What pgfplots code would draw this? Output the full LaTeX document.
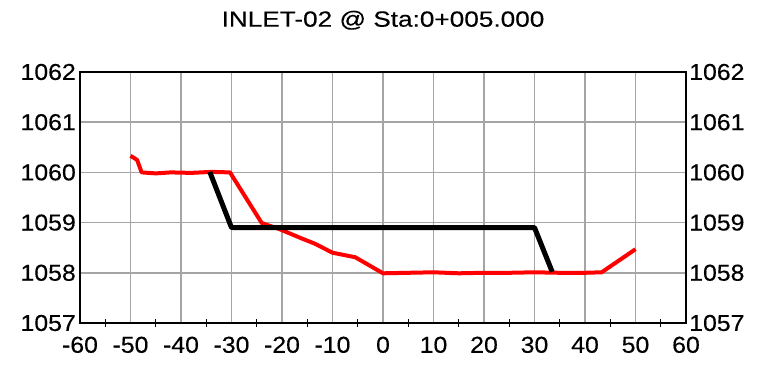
\documentclass[border=0pt]{standalone}
\usepackage{pgfplots}
\pgfplotsset{compat=1.18}
\usepackage{fontspec}
\setmainfont{Liberation Sans}[FakeStretch=1.08, FakeBold=0.35]
\newfontfamily\titlefont{Liberation Sans}[FakeStretch=1.19, FakeBold=0.3]
\definecolor{gridgray}{RGB}{165,165,165}
\begin{document}
\begin{tikzpicture}
\pgfplotsset{
  common/.style={
    width=606pt, height=251pt, scale only axis,
    xmin=-60, xmax=60, ymin=1057, ymax=1062,
    xtick={-60,-50,...,60}, ytick={1057,1058,...,1062},
    /pgf/number format/assume math mode=true,
    /pgf/number format/set thousands separator={},
    tick label style={font=\fontsize{23}{23}\selectfont},
  }
}
\begin{axis}[common, name=ax,
  axis line style={black, line width=1.3pt},
  grid=major, major grid style={gridgray, line width=1.8pt},
  major tick length=0pt,
  minor x tick num=1, minor y tick num=1,
  minor tick length=8pt, tick align=center,
  minor tick style={black, line width=1.2pt},
  xtick pos=bottom, ytick pos=both,
  xticklabel style={anchor=north, inner sep=0pt, yshift=-13.5pt},
  yticklabel style={anchor=east, inner sep=0pt, xshift=-4pt},
]
\addplot[red, line width=4pt, line join=round] coordinates {
(-50,1060.33) (-48.7,1060.25) (-47.8,1060.0) (-45,1059.98) (-42,1060.0) (-38,1059.99) (-34,1060.01) (-30.3,1060.0) (-24,1058.99) (-20.5,1058.87) (-16,1058.68) (-13.5,1058.58) (-10,1058.4) (-5.5,1058.31) (0,1057.99) (5,1058.0) (10,1058.01) (15,1057.99) (20,1058.0) (25,1058.0) (30,1058.01) (35,1058.0) (40,1058.0) (43.3,1058.01) (50,1058.47)
};
\addplot[black, line width=5pt, line join=round] coordinates {
(-34.3,1060.01) (-30,1058.9) (30,1058.9) (33.5,1058.02)
};
\end{axis}
\begin{axis}[common,
  axis x line=none, axis y line*=right,
  y axis line style={draw=none}, major tick length=0pt,
  xticklabels={},
  yticklabel style={anchor=west, inner sep=0pt, xshift=3pt},
]
\addplot[draw=none] coordinates {(0,1060)};
\end{axis}
\node[anchor=base, inner sep=0pt, font=\titlefont\fontsize{22}{22}\selectfont] at ([yshift=45.3pt]ax.north) {INLET-02 @ Sta:0+005.000};
\pgfresetboundingbox
\path[use as bounding box] ([xshift=-80pt, yshift=-43pt]ax.south west) rectangle ([xshift=72pt, yshift=72pt]ax.north east);
\end{tikzpicture}
\end{document}
